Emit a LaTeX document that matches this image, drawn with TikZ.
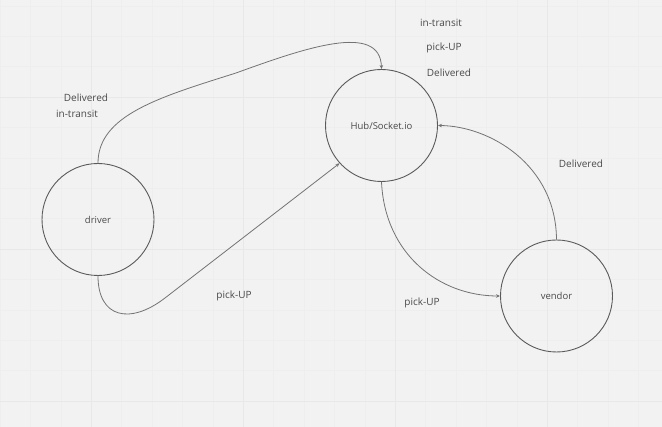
\documentclass[tikz,border=0pt]{standalone}
\usepackage{fontspec}
\setmainfont{Open Sans}
\usetikzlibrary{arrows.meta}
\definecolor{bg}{HTML}{F2F2F2}
\definecolor{gridminor}{HTML}{EEEEEE}
\definecolor{gridmajor}{HTML}{E8E8E8}
\definecolor{ink}{HTML}{5A5A5A}
\definecolor{txt}{HTML}{4A4A4A}
\tikzset{
  state/.style={circle, draw=ink, line width=0.9pt, minimum size=112pt, inner sep=0pt, font=\fontsize{9.5}{11}\selectfont, text=txt},
  lbl/.style={font=\fontsize{10}{12}\selectfont, text=txt, inner sep=0pt},
  conn/.style={draw=ink!85, line width=0.8pt, -{Stealth[length=4pt,width=3.5pt]}}
}
\begin{document}
\begin{tikzpicture}[x=1pt,y=-1pt]
\fill[bg] (0,0) rectangle (662,427);
\useasboundingbox (0,0) rectangle (662,427);
% faint grid
\foreach \i in {0,...,21} {\draw[gridminor, line width=0.5pt] (\i*30.4,0) -- (\i*30.4,427);}
\foreach \j in {0,...,13} {\draw[gridminor, line width=0.5pt] (0,5.8+\j*30.4) -- (662,5.8+\j*30.4);}
\foreach \x in {91.2,243.2,395.2,547.2} {\draw[gridmajor, line width=0.7pt] (\x,0) -- (\x,427);}
\foreach \y in {97,249,401} {\draw[gridmajor, line width=0.7pt] (0,\y) -- (662,\y);}

\node[state] (driver) at (98,219.5) {driver};
\node[state] (hub) at (381.5,125.5) {Hub/Socket.io};
\node[state] (vendor) at (556.5,296) {vendor};

\draw[conn] (driver.north) .. controls (98,115) and (160,97) .. (236,73)
  .. controls (305,48) and (380,22) .. (hub.north);
\draw[conn] (driver.south) .. controls (98,318) and (130,325) .. (165,298) -- (hub.222);
\draw[conn] (hub.south) .. controls (385,255) and (440,296) .. (vendor.west);
\draw[conn] (vendor.north) .. controls (556,165) and (490,126) .. (hub.east);

\node[lbl] (l1) at (441,23) {in-transit};
\node[lbl] (l2) at (444,48) {pick-UP};
\node[lbl] (l3) at (449,73) {Delivered};
\node[lbl] (l4) at (86,98) {Delivered};
\node[lbl] (l5) at (77,114) {in-transit};
\node[lbl] (l6) at (581,164) {Delivered};
\node[lbl] (l7) at (234,296) {pick-UP};
\node[lbl] (l8) at (422,303) {pick-UP};
\end{tikzpicture}
\end{document}
